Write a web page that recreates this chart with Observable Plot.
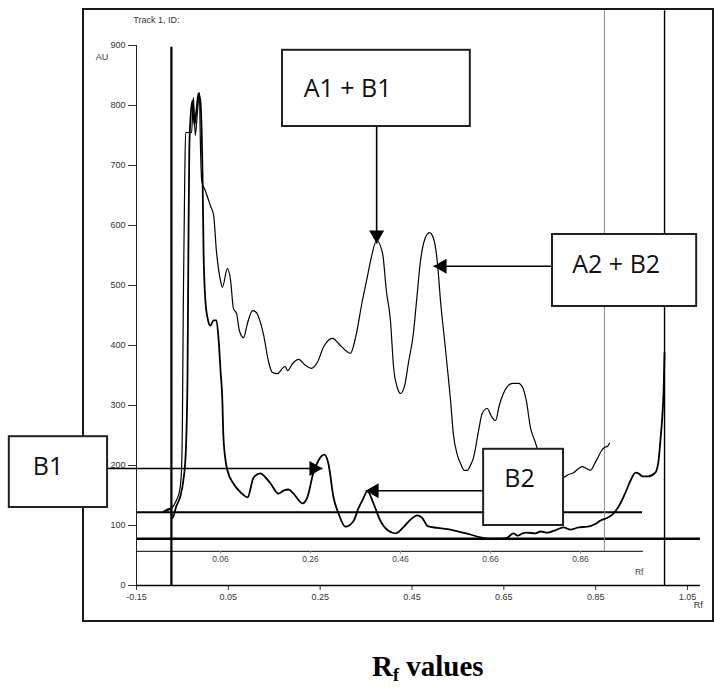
<!DOCTYPE html>
<html>
<head>
<meta charset="utf-8">
<script src="https://cdn.jsdelivr.net/npm/d3@7"></script>
<script src="https://cdn.jsdelivr.net/npm/@observablehq/plot@0.6"></script>
<style>
  html, body { margin: 0; padding: 0; background: white; }
  #wrap { position: relative; width: 714px; height: 690px; overflow: hidden; }
  #frame { position: absolute; left: 82px; top: 8px; width: 628px; height: 610px; border: 2px solid #1a1a1a; }
  #chart { position: absolute; left: 0; top: 0; }
  #title { position: absolute; left: 372px; top: 650px; font-family: "Liberation Serif", "Times New Roman", serif; font-weight: bold; font-size: 29px; color: #000; white-space: nowrap; }
  #title sub { font-size: 18px; vertical-align: -5px; line-height: 0; }
</style>
</head>
<body>
<div id="wrap">
  <div id="frame"></div>
  <div id="chart"></div>
  <div id="title">R<sub>f</sub> values</div>
</div>
<script>
// ---- Densitometric scan, track A (upper trace): Rf and AU ----
const rfA = [-0.091,-0.072,-0.063,-0.056,-0.052,-0.050,-0.048,-0.045,-0.043,-0.030,-0.026,-0.022,-0.017,-0.013,-0.011,-0.008,0.000,0.011,0.018,0.024,0.033,0.037,0.048,0.055,0.061,0.068,0.074,0.083,0.092,0.103,0.111,0.120,0.127,0.137,0.146,0.157,0.168,0.174,0.179,0.190,0.203,0.218,0.231,0.244,0.257,0.277,0.294,0.316,0.327,0.342,0.351,0.360,0.373,0.386,0.394,0.403,0.410,0.418,0.425,0.434,0.442,0.453,0.460,0.468,0.477,0.488,0.497,0.506,0.512,0.521,0.527,0.534,0.540,0.549,0.556,0.564,0.571,0.577,0.584,0.595,0.603,0.614,0.623,0.632,0.640,0.649,0.658,0.669,0.682,0.691,0.699,0.708,0.717,0.723,0.741,0.762,0.780,0.791,0.802,0.813,0.821,0.830,0.839,0.847,0.854,0.863,0.869,0.876,0.880];
const auA = [123,130,142,158,192,275,475,675,755,755,813,750,792,822,742,675,658,633,617,558,508,497,528,508,462,453,425,413,438,458,455,438,417,375,355,353,362,365,358,370,377,367,362,372,397,412,400,387,413,475,508,542,575,553,492,442,363,330,320,333,370,420,475,538,575,588,578,533,475,408,363,308,253,217,203,192,192,200,213,258,287,295,282,275,300,320,332,337,337,330,308,263,242,228,192,178,180,185,188,195,198,195,192,202,212,225,230,232,237];

// ---- track B (lower trace) ----
const rfB = [-0.091,-0.076,-0.072,-0.063,-0.054,-0.048,-0.043,-0.039,-0.037,-0.035,-0.032,-0.028,-0.024,-0.019,-0.015,-0.011,-0.006,-0.004,0.000,0.005,0.011,0.018,0.024,0.029,0.033,0.037,0.039,0.044,0.048,0.061,0.077,0.092,0.105,0.120,0.131,0.142,0.159,0.170,0.181,0.192,0.212,0.222,0.235,0.246,0.259,0.268,0.279,0.290,0.305,0.323,0.333,0.342,0.353,0.366,0.381,0.397,0.414,0.431,0.447,0.462,0.473,0.484,0.505,0.534,0.556,0.577,0.599,0.621,0.643,0.658,0.671,0.680,0.691,0.699,0.719,0.730,0.745,0.762,0.780,0.795,0.813,0.832,0.850,0.860,0.876,0.889,0.904,0.915,0.926,0.937,0.943,0.952,0.965,0.980,0.987,0.991,0.995,0.998,1.000];
const auB = [123,128,112,133,150,175,217,342,558,725,783,808,767,795,820,808,675,558,475,445,433,442,442,408,358,308,253,208,192,170,155,147,180,187,180,170,153,158,160,153,137,147,187,208,218,203,147,120,98,108,128,142,157,137,108,92,87,97,110,117,112,99,96,93,89,85,80,78,78,80,87,83,87,88,87,90,88,92,97,93,97,98,103,108,113,120,137,155,175,188,187,182,182,188,208,242,280,325,388];

// ---- axes ----
const xTicks = [-0.15, 0.05, 0.25, 0.45, 0.65, 0.85, 1.05];
const yTicks = [0, 100, 200, 300, 400, 500, 600, 700, 800, 900];
const xAxisEnd = 1.078;
// secondary (track) Rf axis drawn at AU 57
const innerTicks = [0.06, 0.26, 0.46, 0.66, 0.86];
const innerAxisAu = 57;
const innerAxisEnd = 0.954;
const innerToMain = d3.scaleLinear().domain([0.06, 0.86]).range([0.033, 0.817]);

// ---- baselines (horizontal) ----
const baseAu = [122, 78];
const baseEnd = [0.952, 1.078];
const baseWidth = [2, 2.4];

// ---- vertical marker lines: start, end-of-scan markers ----
const vRf = [-0.074, 0.869, 1.000];
const vLo = [0, 57, 0];
const vHi = [897, 958, 958];
const vColor = ["#000", "#8a8a8a", "#000"];
const vWidth = [2.2, 1, 1.4];

// ---- annotation boxes ----
const boxLabel = ["A1 + B1", "A2 + B2", "B1", "B2"];
const boxRf1 = [0.168, 0.756, -0.427, 0.606];
const boxRf2 = [0.577, 1.070, -0.213, 0.780];
const boxAu1 = [765, 465, 130, 100];
const boxAu2 = [892, 585, 248, 227];
const labelRf = [0.214, 0.799, -0.376, 0.651];
const labelAu = [828, 534, 197, 177];
// arrows: from box edge to peak
const arrowRf1 = [0.373, 0.756, -0.213, 0.606];
const arrowAu1 = [765, 532, 195, 158];
const arrowRf2 = [0.373, 0.497, 0.255, 0.349];
const arrowAu2 = [570, 532, 195, 158];
const arrowDir = ["down", "left", "right", "left"];

const traceA = rfA.map((x, i) => ({x, y: auA[i]}));
const traceB = rfB.map((x, i) => ({x, y: auB[i]}));
const baselines = baseAu.map((y, i) => ({y, x2: baseEnd[i], w: baseWidth[i]}));
const verticals = vRf.map((x, i) => ({x, y1: vLo[i], y2: vHi[i], c: vColor[i], w: vWidth[i]}));
const boxes = boxLabel.map((t, i) => ({t, x1: boxRf1[i], x2: boxRf2[i], y1: boxAu1[i], y2: boxAu2[i], lx: labelRf[i], ly: labelAu[i]}));
const arrows = arrowDir.map((d, i) => ({d, x1: arrowRf1[i], y1: arrowAu1[i], x2: arrowRf2[i], y2: arrowAu2[i]}));

// filled triangular arrow heads with the tip at the origin
function head(dir) {
  const L = 13, W = 7.5;
  return {draw(ctx) {
    if (dir === "down") { ctx.moveTo(0, 0); ctx.lineTo(-W, -L); ctx.lineTo(W, -L); }
    if (dir === "left") { ctx.moveTo(0, 0); ctx.lineTo(L, -W); ctx.lineTo(L, W); }
    if (dir === "right") { ctx.moveTo(0, 0); ctx.lineTo(-L, -W); ctx.lineTo(-L, W); }
    ctx.closePath();
  }};
}

const small = "'Liberation Sans Narrow', 'Liberation Sans', Arial, sans-serif";
const boxFont = "'Open Sans', 'Noto Sans', sans-serif";

const chart = Plot.plot({
  width: 714,
  height: 640,
  marginLeft: 136,
  marginRight: 27,
  marginTop: 45,
  marginBottom: 55,
  style: {fontFamily: small, fontSize: "9px", color: "#333", background: "transparent", overflow: "visible"},
  x: {domain: [-0.15, 1.05], ticks: xTicks, tickSize: 5, tickPadding: 3, tickFormat: d => d.toFixed(2), label: null},
  y: {domain: [0, 900], ticks: yTicks, tickSize: 8, tickPadding: 3, tickFormat: d => String(d), label: null},
  marks: [
    Plot.ruleY(baselines, {y: "y", x1: -0.15, x2: "x2", stroke: "#000", strokeWidth: "w"}),
    Plot.ruleX(verticals, {x: "x", y1: "y1", y2: "y2", stroke: "c", strokeWidth: "w"}),
    Plot.ruleX([-0.15], {y1: 0, y2: 900, stroke: "#222", strokeWidth: 1}),
    Plot.ruleY([0], {x1: -0.15, x2: xAxisEnd, stroke: "#000", strokeWidth: 1.5}),
    Plot.ruleY([innerAxisAu], {x1: -0.15, x2: innerAxisEnd, stroke: "#000", strokeWidth: 1}),
    Plot.ruleX(innerTicks, {x: d => innerToMain(d), y1: innerAxisAu, y2: innerAxisAu - 5, stroke: "#999", strokeWidth: 1}),
    Plot.text(innerTicks, {x: d => innerToMain(d), y: innerAxisAu - 14, text: d => d.toFixed(2), fontSize: 8.5, fill: "#444"}),
    Plot.text(["Rf"], {x: innerAxisEnd, y: 22, text: d => d, textAnchor: "end", fontSize: 8.5, fill: "#444"}),
    Plot.text(["Rf"], {x: 1.083, y: -33, text: d => d, textAnchor: "end", fontSize: 9, fill: "#333"}),
    Plot.text(["AU"], {x: -0.239, y: 880, text: d => d, textAnchor: "start", fontSize: 9, fill: "#333"}),
    Plot.text(["Track 1, ID:"], {x: -0.157, y: 942, text: d => d, textAnchor: "start", fontSize: 9, fill: "#333"}),
    Plot.line(traceA, {x: "x", y: "y", stroke: "#000", strokeWidth: 1.2, curve: "monotone-x"}),
    Plot.line(traceB, {x: "x", y: "y", stroke: "#000", strokeWidth: 1.8, curve: "monotone-x"}),
    Plot.link(arrows, {x1: "x1", y1: "y1", x2: "x2", y2: "y2", stroke: "#000", strokeWidth: 1.6}),
    Plot.rect(boxes, {x1: "x1", x2: "x2", y1: "y1", y2: "y2", fill: "white", stroke: "#222", strokeWidth: 2}),
    Plot.text(boxes, {x: "lx", y: "ly", text: "t", textAnchor: "start", fontFamily: boxFont, fontSize: 25, fill: "#111"}),
    ...arrows.map(a => Plot.dot([a], {x: "x2", y: "y2", symbol: head(a.d), r: 6, fill: "#000", stroke: "none"}))
  ]
});
document.getElementById("chart").appendChild(chart);
</script>
</body>
</html>
